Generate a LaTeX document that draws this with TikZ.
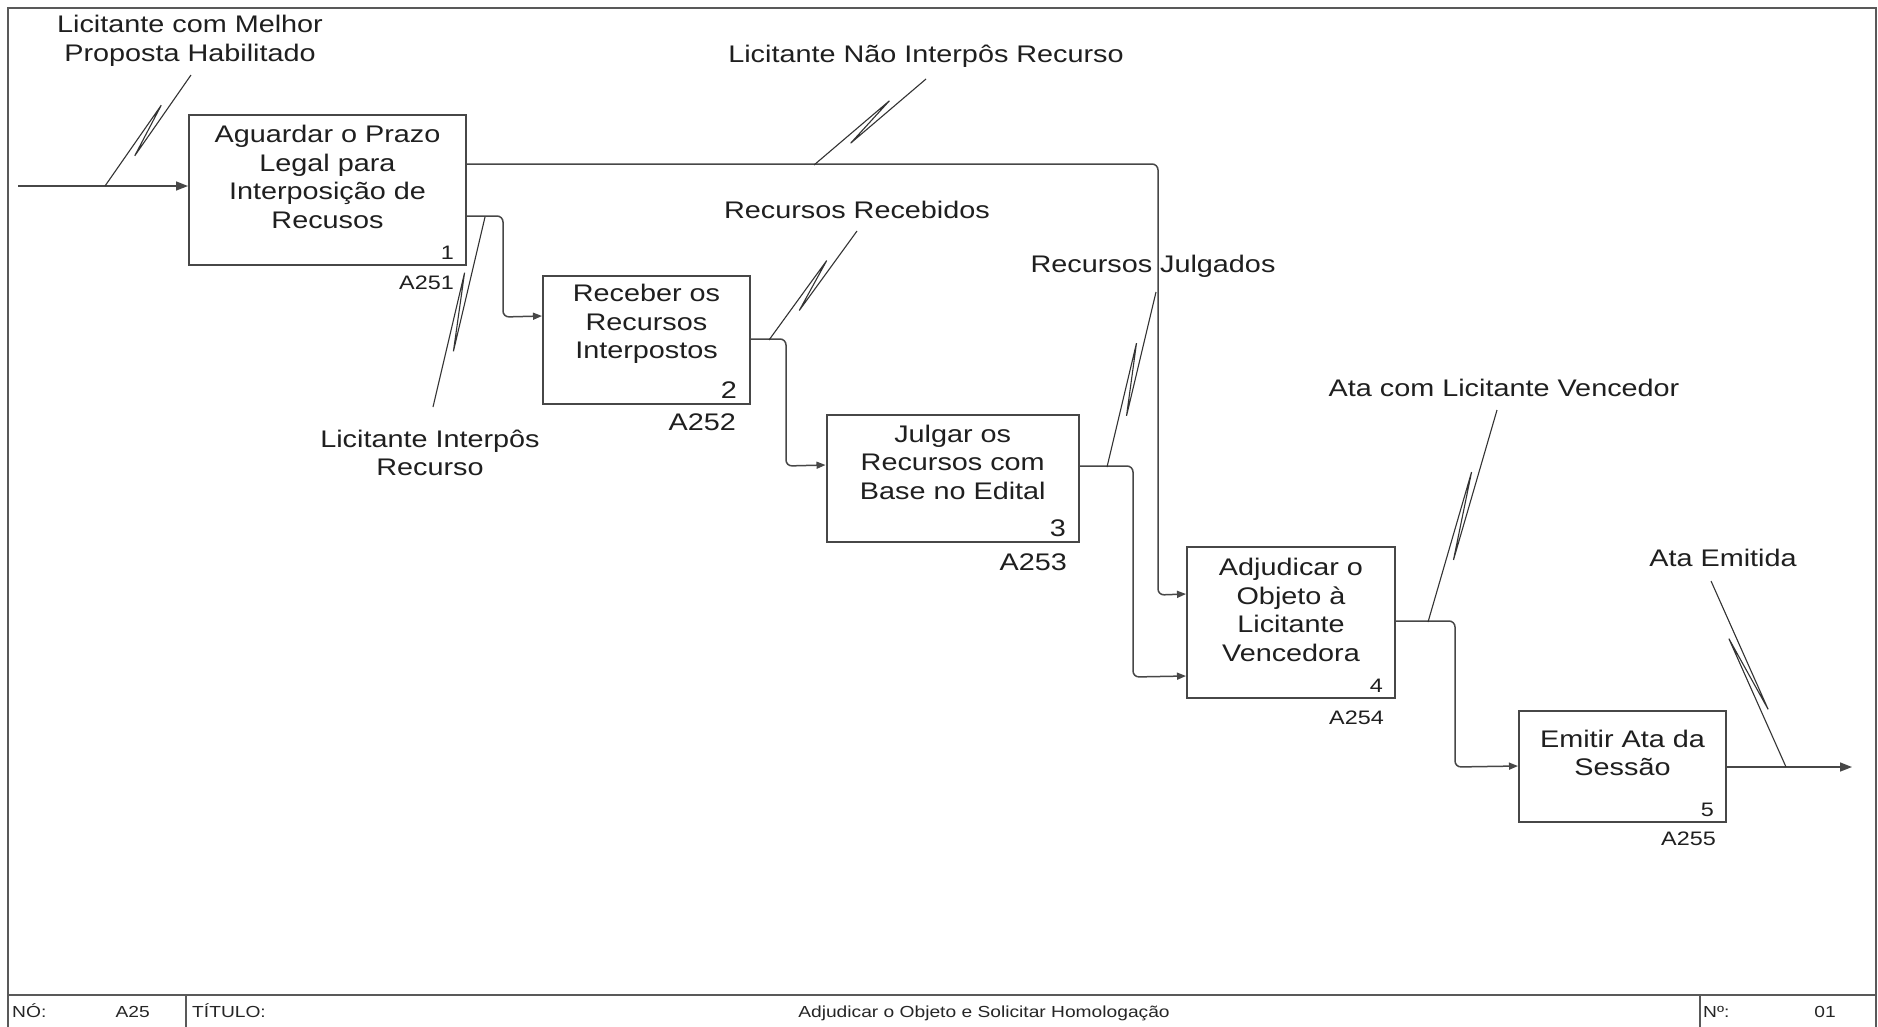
\documentclass[tikz,border=0pt]{standalone}
\usepackage{fontspec}
\setmainfont{Liberation Sans}[FakeStretch=1.2]
\usetikzlibrary{arrows.meta,calc}

% big text for activity names and arrow labels, smaller for node numbers
\newcommand\bigtxt{\fontsize{24}{28.5}\selectfont}
\newcommand\smalltxt{\fontsize{19.5}{23}\selectfont}
\newcommand\foottxt{\fontsize{16}{19}\selectfont}

% IDEF0 squiggle: a label tied to its arrow by a line with a narrow zig-zag
\newcommand\squiggle[2]{%
  \draw[squig] (#1) -- ($(#1)!0.7!(#2)!5pt!90:(#2)$)
                    -- ($(#1)!0.3!(#2)!5pt!-90:(#2)$) -- (#2);}

\tikzset{
  x=1pt, y=-1pt,
  ink/.style={black!72},
  box/.style={draw=black!72, line width=2pt, inner sep=0pt, fill=white},
  boxtext/.style={align=center, inner sep=0pt, text=black!88, font=\bigtxt},
  lbl/.style={align=center, inner sep=0pt, text=black!88, font=\bigtxt},
  num/.style={inner sep=0pt, text=black!88, font=\smalltxt},
  bignum/.style={inner sep=0pt, text=black!88, font=\bigtxt},
  conn/.style={draw=black!72, line width=1.5pt, rounded corners=6pt,
    -{Triangle[length=9pt,width=7pt]}},
  bigconn/.style={draw=black!72, line width=1.5pt,
    -{Triangle[length=12pt,width=9pt]}},
  squig/.style={draw=black!80, line width=1.1pt, line join=miter},
  frame/.style={draw=black!65, line width=2.5pt},
  foot/.style={inner sep=0pt, text=black!85, font=\foottxt},
}

\begin{document}
\begin{tikzpicture}
\useasboundingbox (0,0) rectangle (1878,1026);
\fill[white] (0,0) rectangle (1878,1026);

% sheet frame and title strip
\draw[frame] (8,1030) -- (8,8) -- (1876,8) -- (1876,1030);
\draw[frame] (8,995) -- (1876,995);
\draw[frame] (186,995) -- (186,1030);
\draw[frame] (1700,995) -- (1700,1030);
\node[foot, anchor=base west] (fno) at (12,1017) {NÓ:};
\node[foot, anchor=base east] (fnode) at (150,1017) {A25};
\node[foot, anchor=base west] (ftit) at (192,1017) {TÍTULO:};
\node[foot, anchor=base] (ftitle) at (984,1017) {Adjudicar o Objeto e Solicitar Homologação};
\node[foot, anchor=base west] (fnum) at (1703,1017) {Nº:};
\node[foot, anchor=base east] (fnumv) at (1836,1017) {01};

% activity boxes
\node[box, minimum width=277pt, minimum height=150pt] (b1) at (327.5,190) {};
\node[box, minimum width=207pt, minimum height=128pt] (b2) at (646.5,339.5) {};
\node[box, minimum width=252.5pt, minimum height=127pt] (b3) at (952.75,478) {};
\node[box, minimum width=208pt, minimum height=151pt] (b4) at (1291,622.5) {};
\node[box, minimum width=207pt, minimum height=111pt] (b5) at (1622.5,766.5) {};

\node[boxtext] (b1t) at (327.5,177) {Aguardar o Prazo\\Legal para\\Interposição de\\Recusos};
\node[boxtext] (b2t) at (646.5,324) {Receber os\\Recursos\\Interpostos};
\node[boxtext] (b3t) at (952.75,462) {Julgar os\\Recursos com\\Base no Edital};
\node[boxtext] (b4t) at (1291,610) {Adjudicar o\\Objeto à\\Licitante\\Vencedora};
\node[boxtext] (b5t) at (1622.5,753) {Emitir Ata da\\Sessão};

% box numbers and node references
\node[num, anchor=south east] (n1) at ($(b1.south east)+(-13,-6)$) {1};
\node[bignum, anchor=south east] (n2) at ($(b2.south east)+(-14,-6)$) {2};
\node[bignum, anchor=south east] (n3) at ($(b3.south east)+(-14,-6)$) {3};
\node[num, anchor=south east] (n4) at ($(b4.south east)+(-13,-6)$) {4};
\node[num, anchor=south east] (n5) at ($(b5.south east)+(-13,-6)$) {5};

\node[num, anchor=north east] (r1) at ($(b1.south east)+(-13,10)$) {A251};
\node[bignum, anchor=north east] (r2) at ($(b2.south east)+(-15,9)$) {A252};
\node[bignum, anchor=north east] (r3) at ($(b3.south east)+(-13,11)$) {A253};
\node[num, anchor=north east] (r4) at ($(b4.south east)+(-12,12)$) {A254};
\node[num, anchor=north east] (r5) at ($(b5.south east)+(-11,9)$) {A255};

% arrow labels
\node[lbl] (l0) at (190,41) {Licitante com Melhor\\Proposta Habilitado};
\node[lbl] (l1) at (926,56) {Licitante Não Interpôs Recurso};
\node[lbl] (l2) at (430,453) {Licitante Interpôs\\Recurso};
\node[lbl] (l3) at (857,210) {Recursos Recebidos};
\node[lbl] (l4) at (1153,266) {Recursos Julgados};
\node[lbl] (l5) at (1504,388) {Ata com Licitante Vencedor};
\node[lbl] (l6) at (1723,558) {Ata Emitida};

% connectors
\coordinate (src) at (18,186);
\coordinate (sink) at (1852,767);
\draw[bigconn] (src) -- (src -| b1.west);
\draw[conn] ($(b1.north east)+(0,50)$) -| (1158,595) -- ($(b4.north west)+(0,48)$);
\draw[conn] ($(b1.north east)+(0,102)$) -| (503,317) -- ($(b2.north west)+(0,41.5)$);
\draw[conn] ($(b2.north east)+(0,64.5)$) -| (786,466) -- ($(b3.north west)+(0,51.5)$);
\draw[conn] ($(b3.north east)+(0,52.5)$) -| (1133,677) -- ($(b4.north west)+(0,130)$);
\draw[conn] ($(b4.north east)+(0,75)$) -| (1455,767) -- ($(b5.north west)+(0,56)$);
\draw[bigconn] (b5.east |- sink) -- (sink);

% label ties
\coordinate (t0a) at (191,75);   \coordinate (t0b) at (105,186);
\coordinate (t1a) at (926,79);   \coordinate (t1b) at (814,165);
\coordinate (t2a) at (433,407);  \coordinate (t2b) at (485,217);
\coordinate (t3a) at (857,231);  \coordinate (t3b) at (769,340);
\coordinate (t4a) at (1156,292); \coordinate (t4b) at (1107,467);
\coordinate (t5a) at (1497,410); \coordinate (t5b) at (1428,622);
\coordinate (t6a) at (1711,581); \coordinate (t6b) at (1786,767);
\squiggle{t0a}{t0b}
\squiggle{t1a}{t1b}
\squiggle{t2a}{t2b}
\squiggle{t3a}{t3b}
\squiggle{t4a}{t4b}
\squiggle{t5a}{t5b}
\squiggle{t6a}{t6b}
\end{tikzpicture}
\end{document}
